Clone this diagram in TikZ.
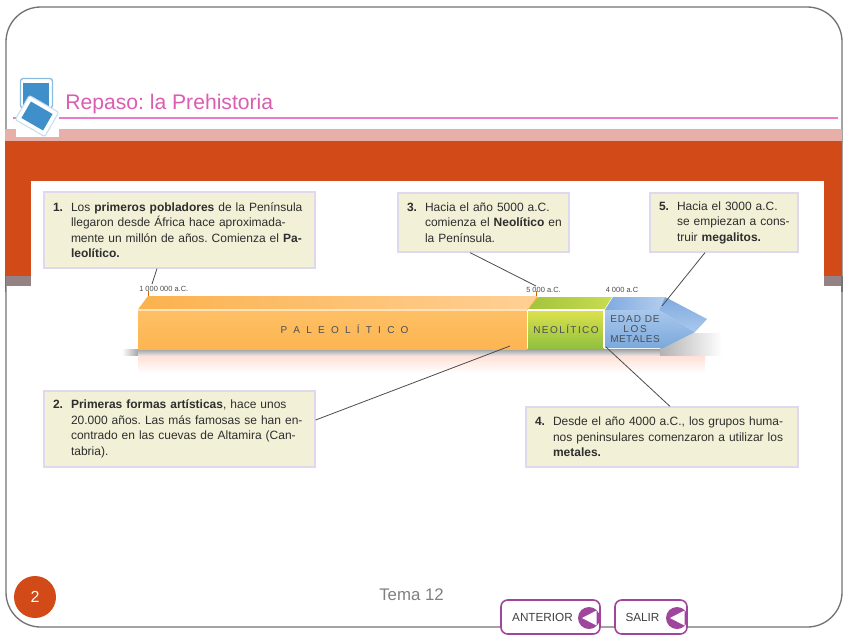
\documentclass[tikz,border=0pt]{standalone}
\usepackage{fontspec}
\setmainfont{Liberation Sans}
\usetikzlibrary{calc}
\definecolor{naranja}{HTML}{D24A17}
\definecolor{rosa}{HTML}{DB5DB0}
\definecolor{lineatitulo}{HTML}{E87CC6}
\definecolor{palido}{HTML}{E6AFA8}
\definecolor{gris}{HTML}{948284}
\definecolor{crema}{HTML}{F2F0D6}
\definecolor{lila}{HTML}{E0D8EC}
\definecolor{morado}{HTML}{A0459C}
\definecolor{azul}{HTML}{3F8FCB}
\definecolor{txt}{HTML}{2E2E2E}
\definecolor{etiq}{HTML}{4A4E55}
\definecolor{verdeA}{HTML}{A2C43C}
\definecolor{verdeB}{HTML}{C8DC50}
\definecolor{verdeC}{HTML}{DDE24C}
\definecolor{verdeD}{HTML}{92C040}
\definecolor{azulA}{HTML}{7FAADF}
\definecolor{azulB}{HTML}{B4CEEE}
\definecolor{azulC}{HTML}{A9C8EC}
\definecolor{azulD}{HTML}{7BA8DC}
\definecolor{ocreA}{HTML}{FBB24E}
\definecolor{ocreB}{HTML}{FFD095}
\definecolor{ocreC}{HTML}{FEC066}
\definecolor{ocreD}{HTML}{FDB550}
\definecolor{ocreE}{HTML}{FFE2B8}
\definecolor{reflejo}{HTML}{FFE0D6}
\newcommand\nm[1]{\makebox[13.5pt][l]{\textbf{#1.}}}
\newcommand\ind{\hspace*{13.5pt}}
\newcommand\jl[2]{\makebox[#1][s]{#2}}
\tikzset{
  caja/.style={draw=lila,line width=0.9pt,fill=crema,inner sep=0pt,text=txt,align=left,
    font=\fontsize{9}{11.6}\selectfont},
  conector/.style={draw=black!70,line width=0.6pt},
  fecha/.style={font=\fontsize{5.6}{6}\selectfont,text=black!70,inner sep=0pt},
  barra/.style={font=\fontsize{7.5}{7.5}\selectfont,text=etiq,inner sep=0pt,align=center},
  boton/.style={draw=morado,line width=1.2pt,fill=white,rounded corners=5pt,inner sep=0pt,
    minimum height=25.5pt,text=black!75,font=\fontsize{8.8}{10}\selectfont},
  disco/.style={circle,fill=morado,minimum size=16.5pt,inner sep=0pt},
}
\begin{document}
\frenchspacing
\begin{tikzpicture}[x=0.75pt,y=-0.75pt]
\useasboundingbox (0,0) rectangle (848,636);
\fill[white] (0,0) rectangle (848,636);
% slide frame
\path[fill=white,draw=black!55,line width=1pt,rounded corners=26pt] (6,7) rectangle (842,627);
% bands
\fill[palido] (5,129) rectangle (842,141);
\fill[naranja] (5,141) rectangle (842,276);
\fill[gris] (5,276) rectangle (842,286);
\fill[white] (31,181) rectangle (824,292);
\draw[black!55,line width=1pt] (5.6,276) -- (5.6,292) (842,276) -- (842,292);
% title
\fill[fill=lineatitulo] (13,116.5) rectangle (838,118.5);
\node[anchor=base west,inner sep=0pt,text=rosa,font=\fontsize{15.85}{18}\selectfont] (titulo) at (65,109) {Repaso: la Prehistoria};
% icon
\fill[white] (16,104) rectangle (59,136.5);
\draw[azul!60,line width=1pt,fill=white,rounded corners=2pt] (20.5,78.5) rectangle (52.5,108);
\fill[azul] (23,83) rectangle (49,106);
\begin{scope}[shift={(37,116)},rotate=-30]
\draw[azul!30,line width=0.8pt,fill=white,rounded corners=1.5pt] (-17,-14) rectangle (17,14);
\fill[azul] (-12.5,-9.5) rectangle (12.5,9.5);
\end{scope}
% shadow and reflection
\shade[left color=white,right color=black!35] (122,349) rectangle (138,355);
\shade[top color=black!38,bottom color=black!10] (138,349) rectangle (665,355.5);
\shade[left color=black!30,right color=white] (660,333) rectangle (722,355.5);
\shade[top color=reflejo,bottom color=white] (138,356) rectangle (705,373);
% paleolithic block
\shade[left color=ocreA,right color=ocreB] (138,309.5) -- (148,296) -- (537,296) -- (527,309.5) -- cycle;
\shade[top color=ocreC,bottom color=ocreD] (138,310) rectangle (527,349);
\draw[ocreE,line width=0.8pt] (138,310) -- (527,310);
\fill[ocreD] (527,310) -- (537,296) -- (537,335) -- (527,349) -- cycle;
% neolithic block
\shade[left color=verdeA,right color=verdeB] (528,310) -- (538,297) -- (612,297) -- (604,310) -- cycle;
\shade[top color=verdeC,bottom color=verdeD] (528,310) rectangle (604,348);
\draw[white,line width=0.8pt] (528,310) -- (604,310) -- (604,348);
\draw[white,line width=0.8pt] (527.5,310) -- (527.5,348);
% metals block
\shade[left color=azulA,right color=azulB] (605,310) -- (613,297) -- (665,297) -- (659,310) -- cycle;
\shade[top color=azulC,bottom color=azulD] (605,310) -- (659,310) -- (695,332) -- (663,348) -- (605,348) -- cycle;
\shade[top color=azulA,bottom color=azulC] (659,310) -- (665,297) -- (707,319) -- (695,332) -- cycle;
% block labels
\node[barra] (lpal) at (344.5,329) {\makebox[96pt][s]{P A L E O L Í T I C O}};
\node[barra] (lneo) at (566,329) {\makebox[49pt][s]{N\hfil E\hfil O\hfil L\hfil Í\hfil T\hfil I\hfil C\hfil O}};
\node[barra] (lmet) at (635,329.5) {\makebox[37pt][s]{E\hfil D\hfil A\hfil D\hfil\ D\hfil E}\\L\,O\,S\\\makebox[37pt][s]{M\hfil E\hfil T\hfil A\hfil L\hfil E\hfil S}};
% dates
\node[fecha,anchor=west] (f1) at (139,288.5) {1 000 000 a.C.};
\node[fecha,anchor=west] (f3) at (526,289.5) {5 000 a.C.};
\node[fecha,anchor=west] (f4) at (605.5,289.5) {4 000 a.C};
% text boxes
\node[caja,minimum width=271*0.75pt,minimum height=76*0.75pt,text width=253*0.75pt] (b1) at (179.5,230) {%
  \nm{1}\jl{177.75pt}{Los \textbf{primeros pobladores} de la Península}\\
  \ind\jl{177.75pt}{llegaron desde África hace aproximada-}\\
  \ind\jl{177.75pt}{mente un millón de años. Comienza el \textbf{Pa-}}\\
  \ind\textbf{leolítico.}};
\node[caja,minimum width=171*0.75pt,minimum height=59*0.75pt,text width=153*0.75pt] (b3) at (483.5,222.5) {%
  \nm{3}\jl{101.25pt}{Hacia el año 5000 a.C.}\\
  \ind\jl{101.25pt}{comienza el \textbf{Neolítico} en}\\
  \ind la Península.};
\node[caja,minimum width=148*0.75pt,minimum height=59*0.75pt,text width=130*0.75pt] (b5) at (724,222.5) {%
  \nm{5}\jl{85.5pt}{Hacia el 3000 a.C.}\\
  \ind\jl{85.5pt}{se empiezan a cons-}\\
  \ind truir \textbf{megalitos.}};
\node[caja,minimum width=271*0.75pt,minimum height=76*0.75pt,text width=253*0.75pt] (b2) at (179.5,429) {%
  \nm{2}\jl{177.75pt}{\textbf{Primeras formas artísticas}, hace unos}\\
  \ind\jl{177.75pt}{20.000 años. Las más famosas se han en-}\\
  \ind\jl{177.75pt}{contrado en las cuevas de Altamira (Can-}\\
  \ind tabria).};
\node[caja,minimum width=272*0.75pt,minimum height=60*0.75pt,text width=254*0.75pt] (b4) at (662,437) {%
  \nm{4}\jl{177pt}{Desde el año 4000 a.C., los grupos huma-}\\
  \ind\jl{177pt}{nos peninsulares comenzaron a utilizar los}\\
  \ind\textbf{metales.}};
% connectors
\coordinate (c1) at (152,284);
\coordinate (c3) at (536,286);
\coordinate (c5) at (662,306);
\coordinate (c2) at (510,346);
\coordinate (c4) at (606,347);
\draw[conector] (157,0 |- b1.south) -- (c1);
\draw[conector] (470,0 |- b3.south) -- (c3);
\draw[conector] (705,0 |- b5.south) -- (c5);
\draw[conector] (b2.east |- 0,420) -- (c2);
\draw[conector] (670,0 |- b4.north) -- (c4);
\draw[orange!80!black,line width=0.5pt] (148,291) -- (148,296) (536,291) -- (536,296);
% footer
\node[text=black!50,inner sep=0pt,font=\fontsize{12.6}{14}\selectfont] (tema) at (411.5,595) {Tema 12};
\node[circle,fill=naranja,minimum size=42*0.75pt,inner sep=0pt,text=white,font=\fontsize{12}{14}\selectfont] (pag) at (35,597) {2};
\node[boton,minimum width=99*0.75pt] (ant) at (550.5,617) {};
\node[inner sep=0pt,text=black!75,font=\fontsize{8.8}{10}\selectfont] (tant) at (542.5,617.5) {ANTERIOR};
\node[disco] (dant) at (589,618) {};
\fill[white] (dant.center) ++(-7,0) -- ++(14.5,-7.5) -- ++(0,15) -- cycle;
\node[boton,minimum width=72*0.75pt] (sal) at (651,617) {};
\node[inner sep=0pt,text=black!75,font=\fontsize{8.8}{10}\selectfont] (tsal) at (642.5,617.5) {SALIR};
\node[disco] (dsal) at (677,618) {};
\fill[white] (dsal.center) ++(-7,0) -- ++(14.5,-7.5) -- ++(0,15) -- cycle;
\end{tikzpicture}
\end{document}
